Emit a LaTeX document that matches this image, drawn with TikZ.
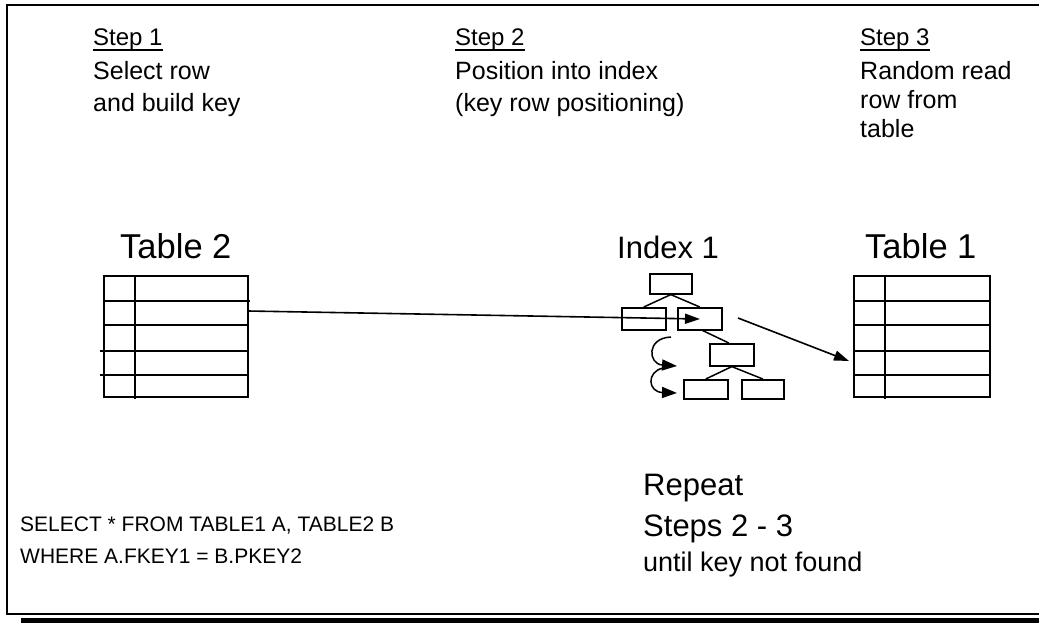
\documentclass[tikz,border=0pt]{standalone}
\usepackage{fontspec}
\setmainfont{Liberation Sans}
\usetikzlibrary{arrows.meta}
\begin{document}
\begin{tikzpicture}[x=1pt,y=-1pt,
  frame/.style={line width=2pt},
  tbl/.style={draw, line width=1.8pt, minimum width=144pt, minimum height=121pt,
    inner sep=0pt, anchor=north west},
  grid/.style={line width=1.8pt},
  ibox/.style={draw, line width=1.6pt, inner sep=0pt, anchor=north west,
    minimum width=44pt, minimum height=21pt},
  link/.style={line width=1.5pt},
  ptr/.style={line width=1.6pt, -{Triangle[length=15pt,width=10pt]}},
  loop/.style={line width=1.5pt, -{Triangle[length=15pt,width=11pt]}},
  txt/.style={inner sep=0pt, anchor=base west},
  head/.style={txt, font=\fontsize{24}{28}\selectfont},
  desc/.style={txt, font=\fontsize{25}{29}\selectfont},
  title/.style={txt, font=\fontsize{34.5}{40}\selectfont},
  note/.style={txt, font=\fontsize{31}{36}\selectfont},
  sql/.style={txt, font=\fontsize{21}{24}\selectfont},
  uline/.style={line width=1.5pt}
]
\useasboundingbox (0,0) rectangle (1039,623);

% outer frame and bottom bar
\draw[frame] (1039,5.3) -- (6.8,5.3) -- (6.8,614) -- (1039,614);
\fill (21,617.7) rectangle (1039,623);

% step headings
\node[head] (s1) at (93,46) {Step 1};
\node[head] (s2) at (455,46) {Step 2};
\node[head] (s3) at (860,46) {Step 3};
\foreach \s in {s1,s2,s3}
  \draw[uline] ([yshift=-4pt]\s.base west) -- ([yshift=-4pt]\s.base east);

% step descriptions
\node[desc] (d1a) at (93,80) {Select row};
\node[desc] (d1b) at (93,112) {and build key};
\node[desc] (d2a) at (455,80) {Position into index};
\node[desc] (d2b) at (455,112) {(key row positioning)};
\node[desc] (d3a) at (860,80) {Random read};
\node[desc] (d3b) at (860,109) {row from};
\node[desc] (d3c) at (860,138) {table};

% object titles
\node[title] (t2title) at (120,258) {Table 2};
\node[txt, font=\fontsize{31}{36}\selectfont] (i1title) at (617,258) {Index 1};
\node[title] (t1title) at (865,258) {Table 1};

% Table 2
\node[tbl] (t2) at (103,275) {};
\draw[grid] (135,275) -- (135,399);
\draw[grid] (103,301) -- (250,301);
\draw[grid] (103,325) -- (249,325);
\draw[grid] (100,351) -- (247,351);
\draw[grid] (100,375) -- (247,375);

% Table 1
\node[tbl, minimum width=136pt] (t1) at (853,275) {};
\draw[grid] (885,275) -- (885,399);
\draw[grid] (853,301) -- (991,301);
\draw[grid] (853,325) -- (989,325);
\draw[grid] (853,351) -- (989,351);
\draw[grid] (853,375) -- (989,375);

% Index 1 (B-tree)
\node[ibox, minimum width=42pt, minimum height=20pt] (root) at (649,273) {};
\node[ibox, minimum height=22pt] (nl) at (621,307) {};
\node[ibox, minimum height=22pt] (nr) at (677,307) {};
\node[ibox, minimum height=22pt] (nm) at (709,343) {};
\node[ibox, minimum height=19pt] (ll) at (683,379) {};
\node[ibox, minimum width=42pt, minimum height=19pt] (lr) at (741,379) {};
\draw[link] (root.south) -- (nl.north);
\draw[link] (root.south) -- (nr.north);
\draw[link] ([xshift=3pt]nr.south) -- ([xshift=-3pt]nm.north);
\draw[link] (nm.south) -- (ll.north);
\draw[link] (nm.south) -- (lr.north);

% key lookup from Table 2 into the index
\coordinate (keyout) at (248,311);
\coordinate (keyhit) at (700,319);
\draw[ptr] (keyout) -- (keyhit);

% fetch from the index into Table 1
\coordinate (rid) at (738,318);
\coordinate (rowin) at (849,361);
\draw[ptr] (rid) -- (rowin);

% scanning down the index levels
\coordinate (c1s) at (671,337);
\coordinate (c1e) at (677,366);
\coordinate (c2s) at (663,368);
\coordinate (c2e) at (677,393);
\draw[loop] (c1s) .. controls (646,338) and (648,364) .. (c1e);
\draw[loop] (c2s) .. controls (646,372) and (648,392) .. (c2e);

% query text
\node[sql] (q1) at (20,531) {SELECT * FROM TABLE1 A, TABLE2 B};
\node[sql] (q2) at (20,563) {WHERE A.FKEY1 = B.PKEY2};

% repeat note
\node[note] (r1) at (643,495) {Repeat};
\node[note] (r2) at (643,536) {Steps 2 - 3};
\node[txt, font=\fontsize{27}{31}\selectfont] (r3) at (643,571) {until key not found};
\end{tikzpicture}
\end{document}
